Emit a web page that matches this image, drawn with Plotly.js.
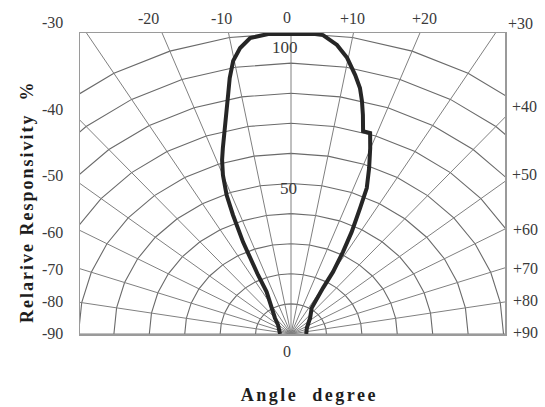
<!DOCTYPE html>
<html>
<head>
<meta charset="utf-8">
<script src="https://cdn.plot.ly/plotly-3.0.1.min.js"></script>
<style>
  html, body { margin: 0; padding: 0; background: #ffffff; }
  #chart { width: 545px; height: 407px; }
</style>
</head>
<body>
<div id="chart"></div>
<script>
// ---- data (angle in degrees, relative responsivity in %) ----
const angleDeg = [-90, -50.8, -40.4, -32.2, -26.2, -25.4, -24.6, -23.9, -22.5, -21.5,
                  -20.0, -18.6, -17.3, -15.2, -14.0, -12.6, -11.5, -10.2, -8.6, -6.7,
                  -3.7, 0, 3.6, 5.2, 7.7, 9.8, 11.9, 13.4, 14.5, 15.6,
                  16.8, 18.5, 19.9, 21.8, 22.4, 23.8, 25.0, 26.8, 28.3, 29.9,
                  30.6, 32.5, 34.1, 45.3, 65.9, 90];
const responsivity = [3.1, 4.7, 7.0, 10.2, 15.6, 21.7, 27.8, 33.4, 42.8, 49.6,
                      56.2, 61.0, 64.7, 70.9, 75.0, 81.4, 86.8, 92.2, 96.1, 99.0,
                      99.9, 99.8, 99.9, 99.7, 96.9, 93.1, 87.9, 84.0, 80.0, 75.5,
                      70.4, 70.4, 65.7, 59.4, 57.1, 53.0, 46.2, 38.0, 30.9, 23.8,
                      17.8, 12.6, 10.4, 7.6, 4.9, 4.3];

// grid definition
const gridAngles = [-90, -80, -70, -60, -50, -40, -30, -20, -10, 0, 10, 20, 30, 40, 50, 60, 70, 80, 90];
const gridRadii = [10, 20, 30, 40, 50, 60, 70, 80, 90, 100];
const angleTickText = ['-90', '-80', '-70', '-60', '-50', '-40', '-30', '-20', '-10', '0',
                       '+10', '+20', '+30', '+40', '+50', '+60', '+70', '+80', '+90'];
const radialTickValues = [100, 50];
const radialTickText = ['100', '50'];

// ---- polar -> cartesian helpers (angle 0 = up, positive = right) ----
const rad = d => d * Math.PI / 180;
const px = (r, a) => r * Math.sin(rad(a));
const py = (r, a) => r * Math.cos(rad(a));

const traces = [];
const arcColor = '#6a6a6a';
const spokeColor = '#808080';

// concentric (polygonal) rings
gridRadii.forEach(r => {
  const xs = [], ys = [];
  for (let a = -180; a <= 180; a += 10) { xs.push(px(r, a)); ys.push(py(r, a)); }
  traces.push({ x: xs, y: ys, mode: 'lines', type: 'scatter', hoverinfo: 'skip',
                line: { color: arcColor, width: 1.1 }, showlegend: false });
});
// spokes
gridAngles.forEach(a => {
  traces.push({ x: [0, px(300, a)], y: [0, py(300, a)], mode: 'lines', type: 'scatter',
                hoverinfo: 'skip', line: { color: spokeColor, width: 1 }, showlegend: false });
});
// response curve
traces.push({
  x: angleDeg.map((a, i) => px(responsivity[i], a)),
  y: angleDeg.map((a, i) => py(responsivity[i], a)),
  mode: 'lines', type: 'scatter', showlegend: false,
  line: { color: '#262626', width: 4, shape: 'linear' }
});

// ---- layout geometry (pixels) ----
const W = 545, H = 407;
const L = 80, R = 505, T = 33, B = 334;
const pxX = v => (v - L) / (R - L);
const pxY = v => (B - v) / (B - T);

const tickFont = { family: 'Liberation Serif, Times New Roman, serif', size: 16, color: '#3a3a3a' };
// label anchor points, pixel positions of each angle label (layout only)
const labelPix = {
  '-90': [52, 333], '-80': [52, 301], '-70': [52, 269], '-60': [52, 232], '-50': [52, 175], '-40': [52, 109],
  '-30': [52, 22], '-20': [148, 19], '-10': [221, 18], '0': [287, 17], '+10': [352, 18], '+20': [424, 18],
  '+30': [520, 23], '+40': [524, 107], '+50': [524, 174], '+60': [525, 229], '+70': [525, 268],
  '+80': [525, 300], '+90': [525, 332]
};
const annotations = angleTickText.map(t => ({
  text: t, xref: 'paper', yref: 'paper', x: pxX(labelPix[t][0]), y: pxY(labelPix[t][1]),
  xanchor: 'center', yanchor: 'middle', showarrow: false, font: tickFont
}));
// bottom zero
annotations.push({ text: '0', xref: 'x', yref: 'paper', x: 0, y: pxY(351), xshift: -4,
                   xanchor: 'center', yanchor: 'middle', showarrow: false, font: tickFont });
// radial labels
const radialShift = { '100': [-6, -14], '50': [-3, -5] };
radialTickValues.forEach((v, i) => {
  annotations.push({ text: radialTickText[i], xref: 'x', yref: 'y', x: 0, y: v,
    xshift: radialShift[radialTickText[i]][0], yshift: radialShift[radialTickText[i]][1],
    xanchor: 'center', yanchor: 'middle', showarrow: false,
    font: { family: tickFont.family, size: 17, color: '#3a3a3a' } });
});
// axis titles
const titleFont = { family: 'Liberation Serif, Times New Roman, serif', size: 18, color: '#1e1e1e', weight: 'bold' };
annotations.push({ text: 'Relarive Responsivity\u00a0\u00a0%', xref: 'paper', yref: 'paper',
  x: pxX(27), y: pxY(202), textangle: -90, xanchor: 'center', yanchor: 'middle',
  showarrow: false, font: titleFont, name: 'ytitle' });
annotations.push({ text: 'Angle\u00a0\u00a0degree', xref: 'paper', yref: 'paper',
  x: pxX(309), y: pxY(395), xanchor: 'center', yanchor: 'middle',
  showarrow: false, font: titleFont, name: 'xtitle' });

const layout = {
  width: W, height: H,
  margin: { l: L, r: W - R, t: T, b: H - B, pad: 0 },
  paper_bgcolor: '#ffffff', plot_bgcolor: '#ffffff',
  xaxis: { range: [-(291 - L) / 3.542, (R - 291) / 3.542], showgrid: false, zeroline: false,
           showticklabels: false, ticks: '', showline: true, mirror: true,
           linecolor: '#9a9a9a', linewidth: 1.5, fixedrange: true },
  yaxis: { range: [0, 100], showgrid: false, zeroline: false, showticklabels: false, ticks: '',
           showline: true, mirror: true, linecolor: '#9a9a9a', linewidth: 1.5, fixedrange: true },
  annotations: annotations,
  showlegend: false
};

Plotly.newPlot('chart', traces, layout, { staticPlot: true, displayModeBar: false }).then(() => {
  document.querySelectorAll('.annotation-text').forEach(el => {
    const t = el.textContent;
    if (t.indexOf('Relarive') === 0) el.style.letterSpacing = '2px';
    if (t.indexOf('Angle') === 0) el.style.letterSpacing = '2.5px';
  });
});
</script>
</body>
</html>
